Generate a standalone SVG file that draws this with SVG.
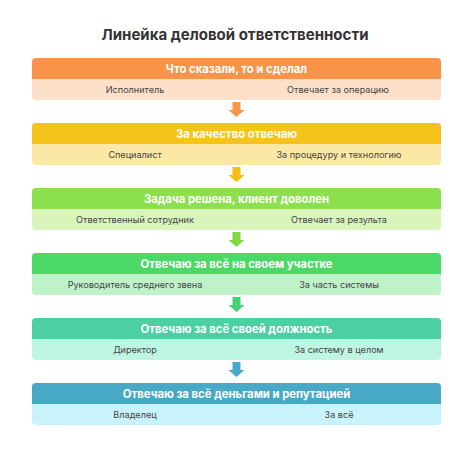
<svg xmlns="http://www.w3.org/2000/svg" width="474" height="450" viewBox="0 0 474 450">
<style>
.title{font-family:Inter,"Noto Sans",sans-serif;font-size:15px;font-weight:700;fill:#333;text-anchor:middle}
.hd{font-family:Inter,"Noto Sans",sans-serif;font-size:11.3px;font-weight:700;fill:#fff;text-anchor:middle}
.sb{font-family:Inter,"Noto Sans",sans-serif;font-size:9.1px;fill:#444;text-anchor:middle}
</style>
<rect width="474" height="450" fill="#fff"/>
<text class="title" x="235" y="40">Линейка деловой ответственности</text>
<defs>
<path id="arr" d="M-4,0 H4 V8 H8 L0,15 L-8,8 H-4 Z"/>
</defs>
<g id="connectors">
<use href="#arr" x="236.5" y="102" fill="#F79548"/>
<use href="#arr" x="236.5" y="167" fill="#F6BE15"/>
<use href="#arr" x="236.5" y="232" fill="#80D845"/>
<use href="#arr" x="236.5" y="297" fill="#48CF7A"/>
<use href="#arr" x="236.5" y="362" fill="#4AA8C8"/>
</g>
<g id="node1">
<rect x="32" y="58" width="409" height="42" rx="4" fill="#FDE0C9"/>
<path d="M32,79 V62 a4,4 0 0 1 4,-4 H437 a4,4 0 0 1 4,4 V79 Z" fill="#F7944A"/>
<text class="hd" x="236.5" y="72.5">Что сказали, то и сделал</text>
<text class="sb" x="135" y="93">Исполнитель</text>
<text class="sb" x="338" y="93">Отвечает за операцию</text>
</g>
<g id="node2">
<rect x="32" y="123" width="409" height="42" rx="4" fill="#FCE8A6"/>
<path d="M32,144 V127 a4,4 0 0 1 4,-4 H437 a4,4 0 0 1 4,4 V144 Z" fill="#F6C21C"/>
<text class="hd" x="236.5" y="137.5">За качество отвечаю</text>
<text class="sb" x="135" y="158">Специалист</text>
<text class="sb" x="339" y="158">За процедуру и технологию</text>
</g>
<g id="node3">
<rect x="32" y="188" width="409" height="42" rx="4" fill="#D9F5BC"/>
<path d="M32,209 V192 a4,4 0 0 1 4,-4 H437 a4,4 0 0 1 4,4 V209 Z" fill="#8CE04E"/>
<text class="hd" x="236.5" y="202.5">Задача решена, клиент доволен</text>
<text class="sb" x="135" y="223">Ответственный сотрудник</text>
<text class="sb" x="339" y="223">Отвечает за результа</text>
</g>
<g id="node4">
<rect x="32" y="253" width="409" height="42" rx="4" fill="#C0F2CA"/>
<path d="M32,274 V257 a4,4 0 0 1 4,-4 H437 a4,4 0 0 1 4,4 V274 Z" fill="#4CD866"/>
<text class="hd" x="236.5" y="267.5">Отвечаю за всё на своем участке</text>
<text class="sb" x="135" y="288">Руководитель среднего звена</text>
<text class="sb" x="339" y="288">За часть системы</text>
</g>
<g id="node5">
<rect x="32" y="318" width="409" height="42" rx="4" fill="#BFF5E3"/>
<path d="M32,339 V322 a4,4 0 0 1 4,-4 H437 a4,4 0 0 1 4,4 V339 Z" fill="#4DCFA4"/>
<text class="hd" x="236.5" y="332.5">Отвечаю за всё своей должность</text>
<text class="sb" x="135" y="353">Директор</text>
<text class="sb" x="339" y="353">За систему в целом</text>
</g>
<g id="node6">
<rect x="32" y="383" width="409" height="42" rx="4" fill="#C9F3FA"/>
<path d="M32,404 V387 a4,4 0 0 1 4,-4 H437 a4,4 0 0 1 4,4 V404 Z" fill="#47A9C6"/>
<text class="hd" x="236.5" y="397.5">Отвечаю за всё деньгами и репутацией</text>
<text class="sb" x="135" y="418">Владелец</text>
<text class="sb" x="339" y="418">За всё</text>
</g>
</svg>
